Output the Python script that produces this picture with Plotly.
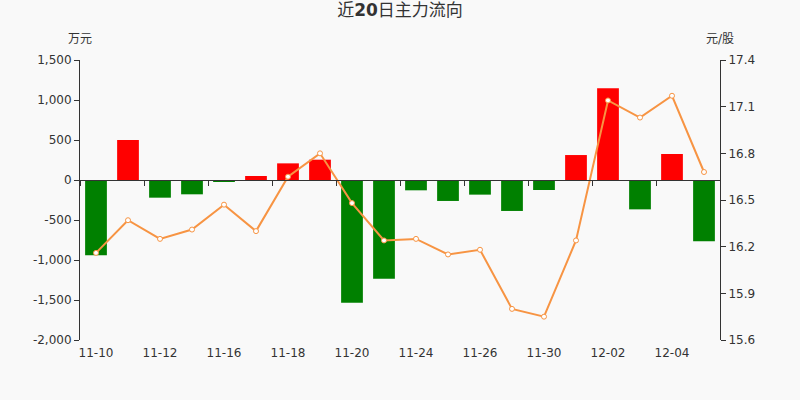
import plotly.graph_objects as go

dates = ["11-10", "11-11", "11-12", "11-13", "11-16", "11-17", "11-18", "11-19", "11-20", "11-23",
         "11-24", "11-25", "11-26", "11-27", "11-30", "12-01", "12-02", "12-03", "12-04", "12-07"]
# main net inflow, 万元
flow = [-940, 500, -221, -179, -17, 50, 208, 254, -1533, -1233,
        -129, -262, -183, -387, -125, 312, 1146, -367, 325, -767]
# close price, 元/股
price = [16.16, 16.37, 16.25, 16.31, 16.47, 16.30, 16.65, 16.80, 16.48, 16.24,
         16.25, 16.15, 16.18, 15.80, 15.75, 16.24, 17.14, 17.03, 17.17, 16.68]

left_ticks = [-2000, -1500, -1000, -500, 0, 500, 1000, 1500]
left_text = ["-2,000", "-1,500", "-1,000", "-500", "0", "500", "1,000", "1,500"]
right_ticks = [15.6, 15.9, 16.2, 16.5, 16.8, 17.1, 17.4]

idx = list(range(len(dates)))
bar_colors = ["#ff0000" if v > 0 else "#008000" for v in flow]
zero_pos = (0 - left_ticks[0]) / (left_ticks[-1] - left_ticks[0])

fig = go.Figure()
fig.add_trace(go.Bar(x=idx, y=flow, marker_color=bar_colors, marker_line_width=0,
                     width=0.68, yaxis="y", xaxis="x", showlegend=False))
fig.add_trace(go.Scatter(x=idx, y=price, mode="lines+markers", yaxis="y2", xaxis="x2",
                         line=dict(color="#f79443", width=2),
                         marker=dict(size=5, color="white", line=dict(color="#f79443", width=1)),
                         showlegend=False))

font_c = "#333333"
fig.update_layout(
    width=800, height=400,
    paper_bgcolor="#f9f9f9", plot_bgcolor="#f9f9f9",
    margin=dict(l=80, r=80, t=60, b=60),
    font=dict(family="DejaVu Sans, Noto Sans CJK SC", size=12, color=font_c),
    title=dict(text="近<b>20</b>日主力流向", x=0.5, xanchor="center",
               yref="container", y=1, yanchor="top", pad=dict(t=4),
               font=dict(size=17, color=font_c)),
    bargap=0.3,
    xaxis=dict(range=[-0.5, len(dates) - 0.5], tickvals=idx[::2], ticktext=dates[::2],
               showline=False, showgrid=False, zeroline=False, ticks="", ticklabelstandoff=4),
    xaxis2=dict(range=[-0.5, len(dates) - 0.5], overlaying="x", anchor="free", position=zero_pos,
                side="bottom", showline=True, linecolor=font_c, linewidth=1,
                tickvals=[i - 0.5 for i in idx[::2]], ticks="outside", ticklen=5,
                tickcolor=font_c, showticklabels=False, showgrid=False, zeroline=False),
    yaxis=dict(range=[left_ticks[0], left_ticks[-1]], tickvals=left_ticks, ticktext=left_text,
               showline=True, linecolor=font_c, ticks="outside", ticklen=5, tickcolor=font_c,
               showgrid=False, zeroline=False),
    yaxis2=dict(range=[right_ticks[0], right_ticks[-1]], tickvals=right_ticks,
                ticktext=[f"{v:.1f}" for v in right_ticks], overlaying="y", side="right",
                anchor="x", showline=True, linecolor=font_c, ticks="outside", ticklen=5,
                tickcolor=font_c, showgrid=False, zeroline=False),
    annotations=[
        dict(text="万元", xref="paper", yref="paper", x=0, y=1, xanchor="center",
             yanchor="bottom", yshift=12, showarrow=False, font=dict(size=12, color=font_c)),
        dict(text="元/股", xref="paper", yref="paper", x=1, y=1, xanchor="center",
             yanchor="bottom", yshift=12, showarrow=False, font=dict(size=12, color=font_c)),
    ],
)

# drop the default page margin so the chart fills the window
fig.write_html("out.html", config={"displayModeBar": False},
               post_script="document.body.style.margin='0';")
